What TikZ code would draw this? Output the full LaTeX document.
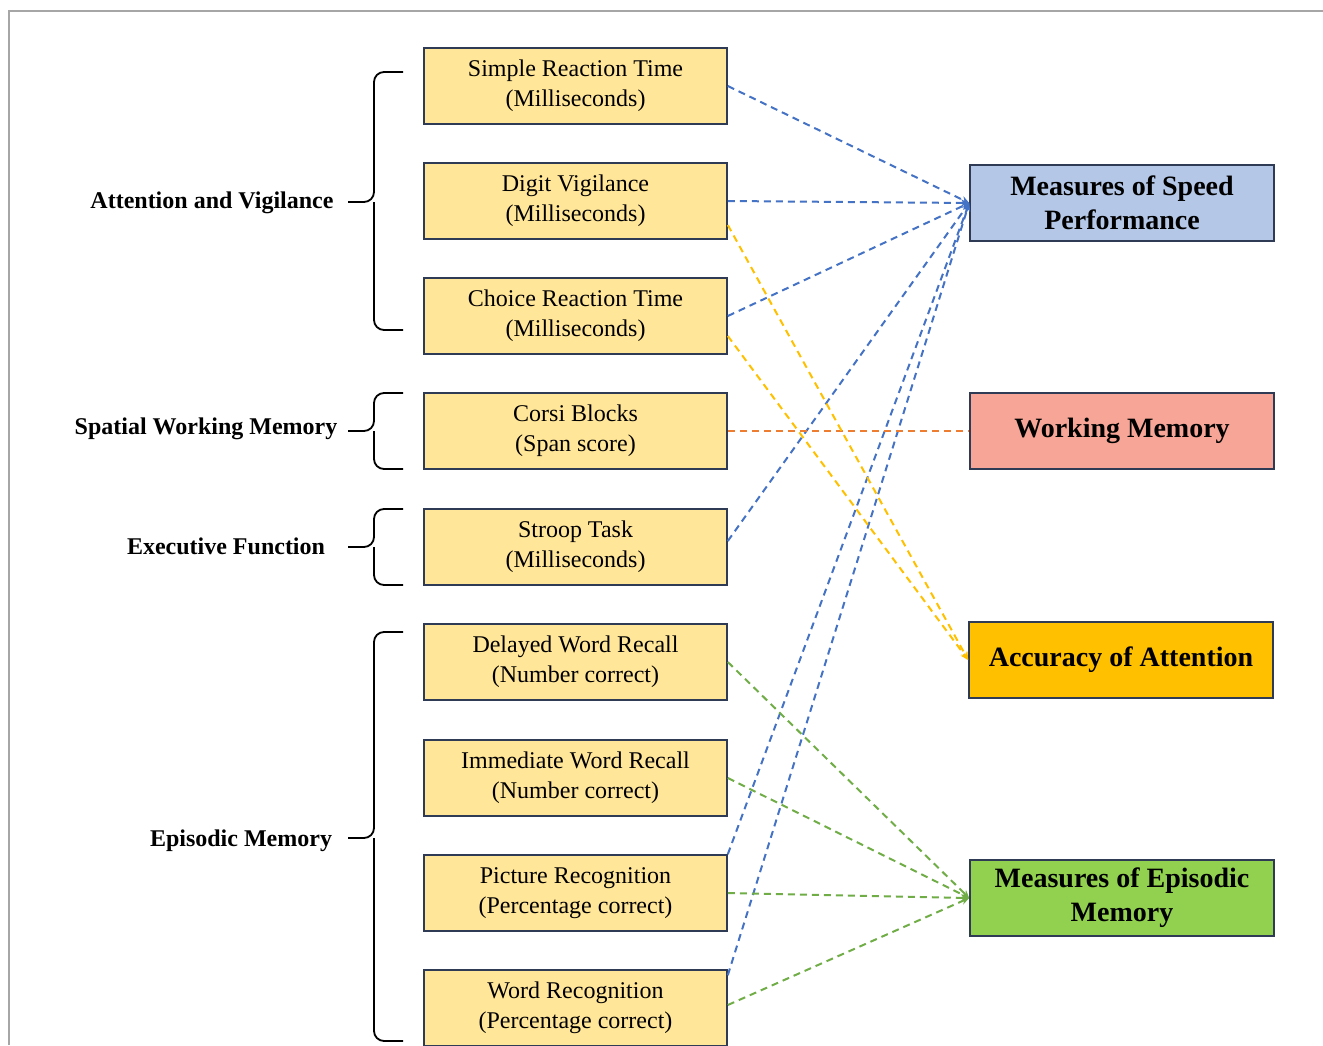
\documentclass[tikz,border=0pt]{standalone}
\usepackage{fontspec}
\setmainfont{Liberation Serif}
\usepackage{tikz}
\usetikzlibrary{arrows.meta}

\definecolor{taskfill}{HTML}{FFE699}
\definecolor{boxline}{HTML}{2F3B55}
\definecolor{speedfill}{HTML}{B4C7E7}
\definecolor{wmfill}{HTML}{F6A596}
\definecolor{accfill}{HTML}{FFC000}
\definecolor{epifill}{HTML}{92D050}
\definecolor{speedline}{HTML}{4472C4}
\definecolor{accline}{HTML}{FFC000}
\definecolor{wmline}{HTML}{ED7D31}
\definecolor{epiline}{HTML}{70AD47}

\begin{document}
\begin{tikzpicture}[x=0.5pt,y=-0.5pt,>={Stealth[length=4pt,width=3.5pt]},
    task/.style={draw=boxline,fill=taskfill,line width=0.8pt,minimum width=151.5pt,
        minimum height=38pt,align=center,font=\fontsize{12}{15}\selectfont},
    measure/.style={draw=boxline,line width=0.8pt,minimum width=152pt,
        minimum height=38pt,align=center,font=\fontsize{14}{17}\selectfont\bfseries},
    group/.style={font=\fontsize{12}{15}\selectfont\bfseries},
    bracket/.style={line width=0.9pt,rounded corners=5pt},
    link/.style={line width=1pt,dash pattern=on 3.5pt off 2.5pt}]
        \useasboundingbox (0,0) rectangle (1323,1045);
        \clip (0,0) rectangle (1323,1045);

        % frame of the figure
        \draw[gray!70,line width=0.8pt] (9,1045) -- (9,11) -- (1323,11);

        % tasks
        \node[task] (simple) at (575.5,86) {Simple Reaction Time\\(Milliseconds)};
        \node[task] (digit) at (575.5,201) {Digit Vigilance\\(Milliseconds)};
        \node[task] (choice) at (575.5,316) {Choice Reaction Time\\(Milliseconds)};
        \node[task] (corsi) at (575.5,431) {Corsi Blocks\\(Span score)};
        \node[task] (stroop) at (575.5,547) {Stroop Task\\(Milliseconds)};
        \node[task] (delayed) at (575.5,662) {Delayed Word Recall\\(Number correct)};
        \node[task] (immediate) at (575.5,778) {Immediate Word Recall\\(Number correct)};
        \node[task] (picture) at (575.5,893) {Picture Recognition\\(Percentage correct)};
        \node[task] (word) at (575.5,1008) {Word Recognition\\(Percentage correct)};

        % outcome measures
        \node[measure,fill=speedfill] (speed) at (1122,203) {Measures of Speed\\Performance};
        \node[measure,fill=wmfill] (wm) at (1122,431) {Working Memory};
        \node[measure,fill=accfill] (acc) at (1121,660) {Accuracy of Attention};
        \node[measure,fill=epifill] (epi) at (1122,898) {Measures of Episodic\\Memory};

        % domains
        \node[group] (attn) at (212,203) {Attention and Vigilance};
        \node[group] (spatial) at (206,429) {Spatial Working Memory};
        \node[group] (exec) at (226,546) {Executive Function};
        \node[group] (episodic) at (241,841) {Episodic Memory};

        \draw[bracket] (403,72) -- (374,72) -- (374,202) -- (348,202);
        \draw[bracket] (403,330) -- (374,330) -- (374,202);
        \draw[bracket] (403,393) -- (374,393) -- (374,431) -- (348,431);
        \draw[bracket] (403,469) -- (374,469) -- (374,431);
        \draw[bracket] (403,509) -- (374,509) -- (374,547) -- (348,547);
        \draw[bracket] (403,585) -- (374,585) -- (374,547);
        \draw[bracket] (403,632) -- (374,632) -- (374,838) -- (348,838);
        \draw[bracket] (403,1041) -- (374,1041) -- (374,838);

        % speed
        \draw[link,->,speedline] (simple.east) -- (speed.west);
        \draw[link,->,speedline] (digit.east) -- (speed.west);
        \draw[link,->,speedline] (choice.east) -- (speed.west);
        \draw[link,->,speedline] ([yshift=3pt]stroop.east) -- (speed.west);
        \draw[link,->,speedline] (picture.north east) -- (speed.west);
        \draw[link,->,speedline] ([yshift=-3pt]word.north east) -- (speed.west);

        % working memory
        \draw[link,wmline] (corsi.east) -- (wm.west);

        % attention
        \draw[link,->,accline] ([yshift=-12pt]digit.east) -- (acc.west);
        \draw[link,->,accline] ([yshift=-10pt]choice.east) -- (acc.west);

        % episodic
        \draw[link,->,epiline] (delayed.east) -- (epi.west);
        \draw[link,->,epiline] (immediate.east) -- (epi.west);
        \draw[link,->,epiline] (picture.east) -- (epi.west);
        \draw[link,->,epiline] ([yshift=1.5pt]word.east) -- (epi.west);
\end{tikzpicture}
\end{document}
